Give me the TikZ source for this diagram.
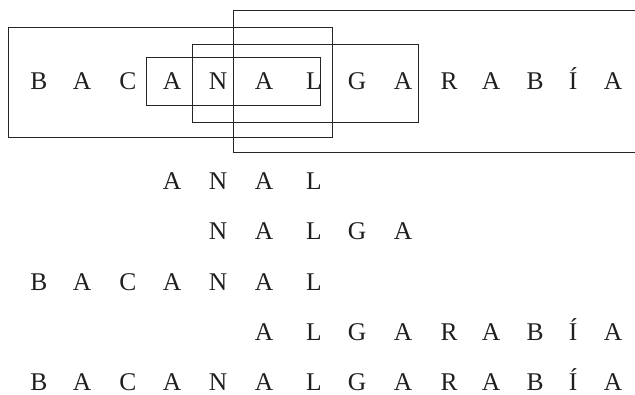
\documentclass[tikz,border=0pt]{standalone}
\usepackage{fontspec}
\setmainfont{Liberation Serif}
\begin{document}
\begin{tikzpicture}[x=1pt,y=-1pt,
  letter/.style={inner sep=0pt,anchor=base,font=\fontsize{25.5}{30}\selectfont,text=black!88},
  frame/.style={draw=black!85,line width=0.75pt}]
\useasboundingbox (0,0) rectangle (635,395);
% boxes
\draw[frame] (8,27) rectangle (332,137);
\draw[frame] (635,10) -- (233,10) -- (233,152) -- (635,152);
\draw[frame] (192,44) rectangle (418,122);
\draw[frame] (146,57) rectangle (320,105);
% top row
\foreach \x/\l [count=\i] in {39/B,82/A,128/C,172/A,218/N,264/A,314/L,357/G,403/A,449/R,491/A,535/B,573/Í,613/A}{
  \node[letter] (t\i) at (\x,90) {\l};
}
% row ANAL
\foreach \x/\l [count=\i] in {172/A,218/N,264/A,314/L}{
  \node[letter] (a\i) at (\x,190) {\l};
}
% row NALGA
\foreach \x/\l [count=\i] in {218/N,264/A,314/L,357/G,403/A}{
  \node[letter] (n\i) at (\x,240) {\l};
}
% row BACANAL
\foreach \x/\l [count=\i] in {39/B,82/A,128/C,172/A,218/N,264/A,314/L}{
  \node[letter] (b\i) at (\x,291) {\l};
}
% row ALGARABIA
\foreach \x/\l [count=\i] in {264/A,314/L,357/G,403/A,449/R,491/A,535/B,573/Í,613/A}{
  \node[letter] (g\i) at (\x,341) {\l};
}
% full row
\foreach \x/\l [count=\i] in {39/B,82/A,128/C,172/A,218/N,264/A,314/L,357/G,403/A,449/R,491/A,535/B,573/Í,613/A}{
  \node[letter] (f\i) at (\x,391) {\l};
}
\end{tikzpicture}
\end{document}
